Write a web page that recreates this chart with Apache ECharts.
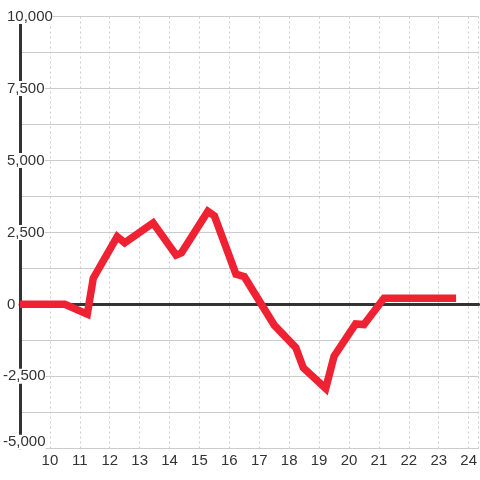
<!DOCTYPE html>
<html><head><meta charset="utf-8">
<script src="https://cdn.jsdelivr.net/npm/echarts@6/dist/echarts.min.js"></script>
<style>html,body{margin:0;padding:0;background:#fff}#c{width:480px;height:480px}</style>
</head><body><div id="c"></div>
<script>
const hours  = [9, 10.5, 11.25, 11.45, 12.25, 12.5, 13.45, 14.22, 14.4, 15.28, 15.5, 16.22, 16.5, 17.5, 18.22, 18.47, 19.22, 19.5, 20.22, 20.5, 21.17, 23.58];
const values = [0, 0, -340, 910, 2350, 2140, 2830, 1710, 1790, 3230, 3070, 1050, 960, -720, -1500, -2200, -2920, -1800, -680, -700, 210, 210];
const yLabelValues = [-5000, -2500, 0, 2500, 5000, 7500, 10000];

const chart = echarts.init(document.getElementById('c'), null, {renderer: 'canvas'});
const FONT = 'Liberation Sans';
const fmt = v => {
  const s = Math.abs(v).toLocaleString('en-US');
  if (v === yLabelValues[0]) return '{n|-' + s + '}\n{e|\u00a0}';
  if (v < 0) return '{n|-' + s + '}';
  return '{p|' + s + '}';
};
const base = {color: '#333', fontFamily: FONT, fontSize: 15, lineHeight: 15, backgroundColor: '#fff'};
chart.setOption({
  animation: false,
  grid: {left: 20, right: 0, top: 16.5, bottom: 31.7},
  xAxis: [{
    type: 'value', min: 9, max: 9 + 460 / 30, interval: 1, z: 0,
    axisLine: {show: false}, axisTick: {show: false},
    splitLine: {show: true, lineStyle: {color: '#cccccc', width: 1, type: [2, 3]}},
    axisLabel: {
      color: '#333', fontFamily: FONT, fontSize: 15, margin: 5,
      showMinLabel: false, showMaxLabel: false,
      formatter: v => (Number.isInteger(v) && v > 9) ? String(v) : ''
    }
  }, {
    type: 'value', min: 9, max: 9 + 460 / 30, z: 1,
    axisLine: {show: true, onZero: true, lineStyle: {color: '#333', width: 3}},
    axisTick: {show: false}, axisLabel: {show: false}, splitLine: {show: false}
  }],
  yAxis: [{
    type: 'value', min: -5000, max: 10000, interval: 1250, z: 0,
    axisLine: {show: false}, axisTick: {show: false}, axisLabel: {show: false},
    splitLine: {show: true, lineStyle: {color: '#cccccc', width: 1}}
  }, {
    type: 'value', min: -5000, max: 10000, interval: 2500, z: 5, position: 'left',
    axisLine: {show: true, lineStyle: {color: '#333', width: 3}},
    axisTick: {show: false}, splitLine: {show: false},
    axisLabel: {
      align: 'left', margin: 17, formatter: fmt,
      rich: {
        p: Object.assign({}, base, {padding: [0, 0, 0, 4]}),
        n: Object.assign({}, base),
        e: {fontSize: 1, lineHeight: 12}
      }
    }
  }],
  series: [{
    type: 'line', xAxisIndex: 0, yAxisIndex: 0, z: 6,
    data: hours.map((h, i) => [h, values[i]]),
    showSymbol: false, symbol: 'none',
    lineStyle: {color: '#ee2233', width: 7.5, join: 'miter', cap: 'butt'}
  }]
});
</script></body></html>
